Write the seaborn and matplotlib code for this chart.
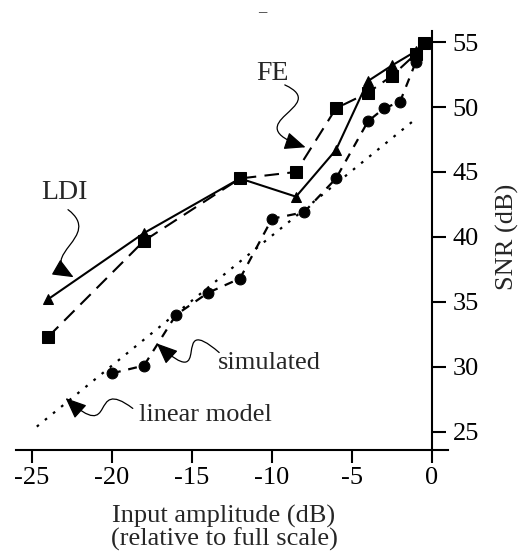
import numpy as np
import pandas as pd
import matplotlib
matplotlib.use("Agg")
import matplotlib.pyplot as plt
from matplotlib.path import Path
from matplotlib.patches import FancyArrowPatch
import seaborn as sns

# ---- data ----
ldi_x = [-24, -18, -12, -8.5, -6, -4, -2.5, -1, -0.5]
ldi_y = [35.2, 40.3, 44.5, 43.1, 46.7, 52.0, 53.2, 54.3, 55.0]

fe_x = [-24, -18, -12, -8.5, -6, -4, -2.5, -1, -0.5]
fe_y = [32.3, 39.7, 44.5, 45.0, 49.9, 51.1, 52.4, 54.1, 54.9]

sim_x = [-20, -18, -16, -14, -12, -10, -8, -6, -4, -3, -2, -1]
sim_y = [29.5, 30.1, 34.0, 35.7, 36.8, 41.4, 41.9, 44.5, 48.9, 49.9, 50.4, 53.5]

lin_x = [-24.7, -0.9]
lin_y = [25.4, 49.2]

x_ticks = [-25, -20, -15, -10, -5, 0]
y_ticks = [25, 30, 35, 40, 45, 50, 55]

sns.set_style("white")
plt.rcParams["font.family"] = ["Liberation Serif", "DejaVu Serif"]
plt.rcParams["axes.unicode_minus"] = False

FS = 19

fig = plt.figure(figsize=(5.18, 5.55), dpi=100)
ax = fig.add_axes([16 / 518, 105 / 555, 432 / 518, 419 / 555])

sns.lineplot(x=lin_x, y=lin_y, ax=ax, color="black", linewidth=1.6,
             linestyle=(0, (1.2, 3.5)), sort=False)
sns.lineplot(x=sim_x, y=sim_y, ax=ax, color="black", linewidth=1.6,
             linestyle=(0, (4, 3.5)), marker="o", markersize=7.8,
             markeredgecolor="black", sort=False)
sns.lineplot(x=fe_x, y=fe_y, ax=ax, color="black", linewidth=1.5,
             linestyle=(0, (7, 4)), marker="s", markersize=8.3,
             markeredgecolor="black", sort=False)
sns.lineplot(x=ldi_x, y=ldi_y, ax=ax, color="black", linewidth=1.5,
             linestyle="-", marker="^", markersize=7.8,
             markeredgecolor="black", sort=False)

ax.set_xlim(-26, 1.0)
ax.set_ylim(23.6, 55.85)

for s in ["top", "left"]:
    ax.spines[s].set_visible(False)
ax.spines["right"].set_position(("data", 0))
ax.spines["right"].set_linewidth(1.5)
ax.spines["bottom"].set_linewidth(1.5)
ax.spines["right"].set_color("black")
ax.spines["bottom"].set_color("black")

ax.set_xticks(x_ticks)
ax.set_xticklabels([str(v) for v in x_ticks])
ax.set_yticks(y_ticks)
ax.set_yticklabels([str(v) for v in y_ticks])
ax.yaxis.tick_right()
ax.tick_params(axis="x", direction="out", length=9, width=1.5, labelsize=FS,
               pad=3, bottom=True, colors="black")
ax.tick_params(axis="y", direction="out", length=10, width=1.5, labelsize=FS,
               pad=5, right=True, left=False, colors="black")

fig.text(224 / 518, 1 - 528 / 555, "Input amplitude (dB)\n(relative to full scale)",
         fontsize=FS, linespacing=1.02, ha="center", va="center")
fig.text(507 / 518, 1 - 237 / 555, "SNR (dB)", rotation=90, fontsize=FS,
         ha="center", va="center")

# annotations
def squiggle(ax, p0, p1, p2, p3):
    path = Path([p0, p1, p2, p3], [Path.MOVETO, Path.CURVE4, Path.CURVE4, Path.CURVE4])
    arr = FancyArrowPatch(path=path, arrowstyle="-|>,head_length=13,head_width=5.5",
                          color="black", linewidth=0.9, transform=ax.transData,
                          shrinkA=0, shrinkB=0)
    ax.add_patch(arr)

ax.text(-10, 52.6, "FE", fontsize=FS + 1, ha="center", va="center")
squiggle(ax, (-9.2, 51.7), (-6.2, 50.0), (-12.5, 48.8), (-7.9, 46.9))

ax.text(-23.0, 43.4, "LDI", fontsize=FS + 1, ha="center", va="center")
squiggle(ax, (-22.75, 42.1), (-20.5, 40.0), (-24.8, 38.6), (-22.4, 36.9))

ax.text(-13.4, 30.3, "simulated", fontsize=FS, ha="left", va="center")
squiggle(ax, (-13.3, 31.1), (-16.5, 34.5), (-13.5, 27.6), (-17.2, 31.8))

ax.text(-18.3, 26.3, "linear model", fontsize=FS, ha="left", va="center")
squiggle(ax, (-18.7, 26.8), (-21.5, 29.4), (-19.6, 23.9), (-22.9, 27.6))

fig.text(262 / 518, 1 - 16 / 555, "\u2013", fontsize=12, ha="center", va="baseline")

fig.savefig("out.png", dpi=100)
